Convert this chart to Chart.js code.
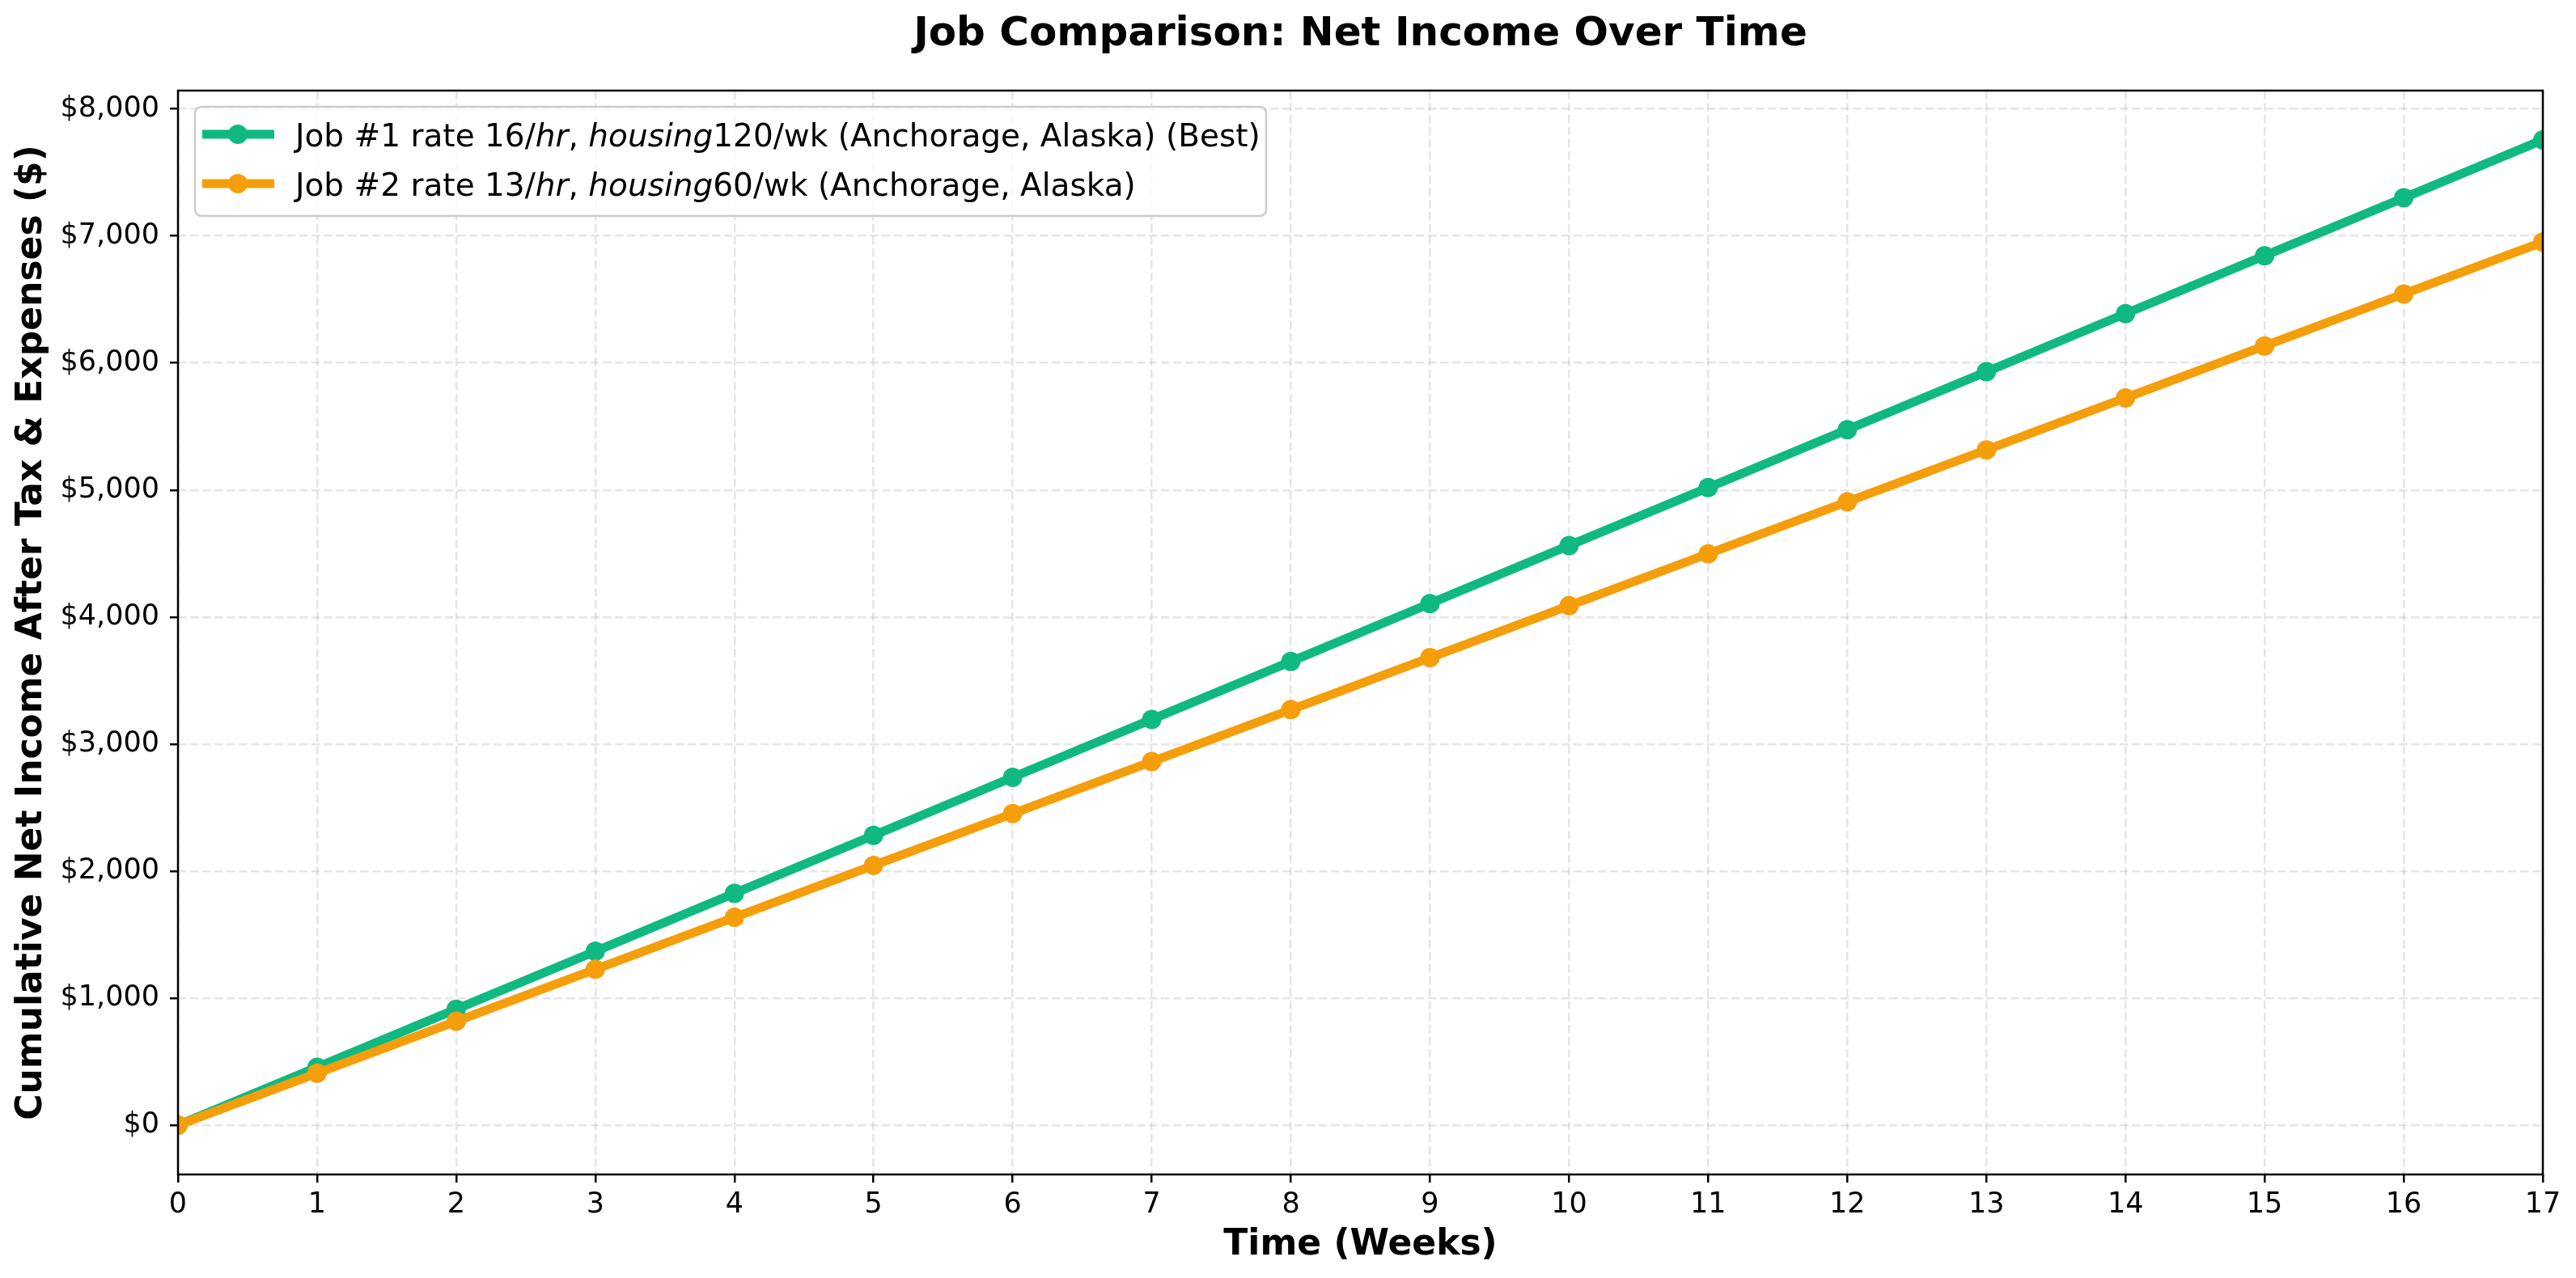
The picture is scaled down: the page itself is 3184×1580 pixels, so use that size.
<!DOCTYPE html>
<html>
<head>
<meta charset="utf-8">
<title>Job Comparison: Net Income Over Time</title>
<script src="https://cdn.jsdelivr.net/npm/chart.js@4.4.1/dist/chart.umd.min.js"></script>
<style>
  html, body { margin: 0; padding: 0; background: #fff; }
  #chart { display: block; }
</style>
</head>
<body>
<canvas id="chart" width="3184" height="1580"></canvas>
<script>
// data
const weeks = [0, 1, 2, 3, 4, 5, 6, 7, 8, 9, 10, 11, 12, 13, 14, 15, 16, 17];
const job1Income = [0, 456, 913, 1369, 1825, 2281, 2738, 3194, 3650, 4106, 4563, 5019, 5475, 5931, 6388, 6844, 7300, 7756];
const job2Income = [0, 409, 818, 1227, 1636, 2045, 2453, 2862, 3271, 3680, 4089, 4498, 4907, 5316, 5725, 6134, 6543, 6952];
const yTicks = [0, 1000, 2000, 3000, 4000, 5000, 6000, 7000, 8000];
// $...$ parts are rendered in italics (matplotlib mathtext)
const seriesLabels = [
    'Job #1 rate 16/$hr, housing$120/wk (Anchorage, Alaska) (Best)',
    'Job #2 rate 13/$hr, housing$60/wk (Anchorage, Alaska)'
];
const seriesColors = ['#10b981', '#f59e0b'];
const chartTitle = 'Job Comparison: Net Income Over Time';

const FONT = '"DejaVu Sans", Verdana, sans-serif';

// draw the legend text, with mathtext parts in italic
function drawMixedText(ctx, text, x, y, size) {
    const parts = text.split('$');
    parts.forEach((part, i) => {
        const italic = i % 2 === 1;
        // commas stay upright inside mathtext
        const pieces = italic ? part.split(/(,)/) : [part];
        pieces.forEach(p => {
            if (!p) return;
            ctx.font = (italic && p !== ',' ? 'italic ' : '') + size + 'px ' + FONT;
            ctx.fillText(p, x, y);
            x += ctx.measureText(p).width;
        });
    });
}

const framePlugin = {
    id: 'framePlugin',
    afterDatasetsDraw(chart) {
        const {ctx, chartArea: a} = chart;
        ctx.save();
        ctx.strokeStyle = '#000';
        ctx.lineWidth = 2.5;
        ctx.strokeRect(a.left, a.top, a.right - a.left, a.bottom - a.top);
        ctx.restore();
    },
    afterDraw(chart) {
        const {ctx, chartArea: a} = chart;
        ctx.save();

        // title, centred over the plot area
        ctx.fillStyle = '#000';
        ctx.font = 'bold 50px ' + FONT;
        ctx.textAlign = 'center';
        ctx.textBaseline = 'alphabetic';
        ctx.fillText(chartTitle, (a.left + a.right) / 2, 56);

        // legend box in the upper left
        const bx = a.left + 21, by = a.top + 20, bw = 1324, bh = 135;
        ctx.beginPath();
        ctx.roundRect(bx, by, bw, bh, 8);
        ctx.fillStyle = 'rgba(255,255,255,0.8)';
        ctx.fill();
        ctx.strokeStyle = '#cccccc';
        ctx.lineWidth = 2.5;
        ctx.stroke();

        ctx.textAlign = 'left';
        seriesLabels.forEach((label, i) => {
            const cy = by + 34 + i * 61;
            ctx.strokeStyle = seriesColors[i];
            ctx.lineWidth = 11;
            ctx.beginPath();
            ctx.moveTo(bx + 9, cy);
            ctx.lineTo(bx + 98, cy);
            ctx.stroke();
            ctx.fillStyle = seriesColors[i];
            ctx.beginPath();
            ctx.arc(bx + 53, cy, 12, 0, Math.PI * 2);
            ctx.fill();
            ctx.fillStyle = '#000';
            drawMixedText(ctx, label, bx + 124, cy + 15, 39);
        });
        ctx.restore();
    }
};

const gridStyle = {
    color: 'rgba(176,176,176,0.32)',
    lineWidth: 2.5,
    tickColor: '#000',
    tickWidth: 2.5,
    tickLength: 10,
    tickBorderDash: []
};

new Chart(document.getElementById('chart'), {
    type: 'line',
    data: {
        datasets: [
            {
                label: seriesLabels[0],
                data: weeks.map((w, i) => ({x: w, y: job1Income[i]})),
                borderColor: seriesColors[0],
                backgroundColor: seriesColors[0],
                order: 1
            },
            {
                label: seriesLabels[1],
                data: weeks.map((w, i) => ({x: w, y: job2Income[i]})),
                borderColor: seriesColors[1],
                backgroundColor: seriesColors[1],
                order: 0
            }
        ]
    },
    options: {
        responsive: false,
        devicePixelRatio: 1,
        animation: false,
        clip: 0,
        layout: {padding: {top: 112, right: 41, left: 0, bottom: 0}},
        elements: {
            line: {borderWidth: 11, borderJoinStyle: 'round', tension: 0},
            point: {radius: 12, borderWidth: 0, hoverRadius: 12}
        },
        plugins: {
            legend: {display: false},
            title: {display: false},
            tooltip: {enabled: false}
        },
        scales: {
            x: {
                type: 'linear',
                min: 0,
                max: 17,
                afterBuildTicks: (axis) => { axis.ticks = weeks.map(v => ({value: v})); },
                afterFit: (scale) => { scale.height = 128; },
                grid: gridStyle,
                border: {display: false, dash: [10.5, 4.5]},
                ticks: {
                    color: '#000',
                    padding: 7,
                    maxRotation: 0,
                    font: {family: FONT, size: 35}
                },
                title: {
                    display: true,
                    text: 'Time (Weeks)',
                    color: '#000',
                    padding: {top: 0, bottom: 14},
                    font: {family: FONT, size: 44, weight: 'bold'}
                }
            },
            y: {
                type: 'linear',
                min: -388,
                max: 8144,
                afterBuildTicks: (axis) => { axis.ticks = yTicks.map(v => ({value: v})); },
                afterFit: (scale) => { scale.width = 220; },
                grid: gridStyle,
                border: {display: false, dash: [10.5, 4.5]},
                ticks: {
                    color: '#000',
                    padding: 13,
                    font: {family: FONT, size: 35},
                    callback: (v) => '$' + v.toLocaleString('en-US')
                },
                title: {
                    display: true,
                    text: 'Cumulative Net Income After Tax & Expenses ($)',
                    color: '#000',
                    padding: {top: 13, bottom: 0},
                    font: {family: FONT, size: 44, weight: 'bold'}
                }
            }
        }
    },
    plugins: [framePlugin]
});
</script>
</body>
</html>
